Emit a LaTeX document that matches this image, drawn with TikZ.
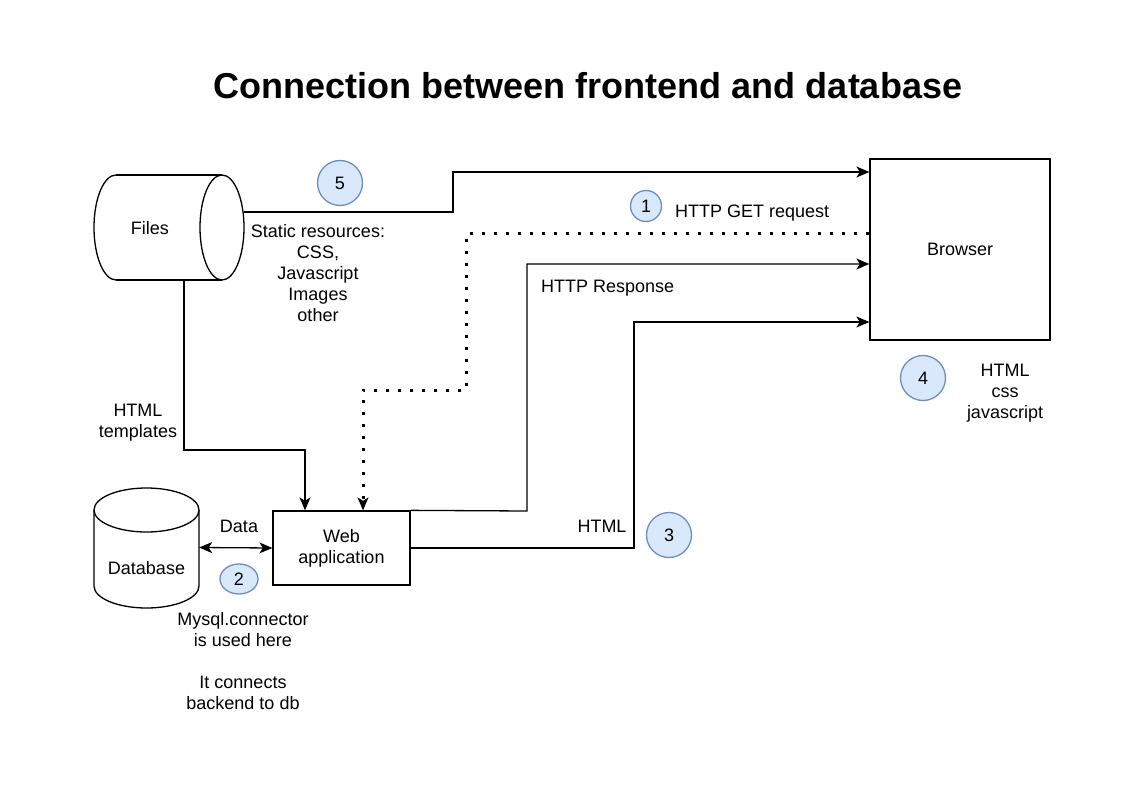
\documentclass[tikz,border=0pt]{standalone}
\usepackage{fontspec}
\setmainfont{Liberation Sans}
\usetikzlibrary{arrows.meta,calc,shapes.geometric}
\definecolor{numfill}{HTML}{DAE8FC}
\definecolor{numline}{HTML}{6C8EBF}
\begin{document}
\begin{tikzpicture}[x=1pt,y=-1pt,
  every node/.style={font=\fontsize{18}{21}\selectfont, align=center, inner sep=0pt},
  box/.style={draw, line width=1.3pt, inner sep=0pt},
  ghost/.style={draw=none, inner sep=0pt},
  num/.style={circle, draw=numline, fill=numfill, line width=1.3pt, minimum size=45pt},
  smallnum/.style={num, minimum size=31pt},
  line/.style={line width=1.3pt},
  tip/.tip={Stealth[length=13pt,width=11pt,inset=3.5pt]},
  arr/.style={line width=1.3pt, -tip},
  dotarr/.style={line width=3pt, dash pattern=on 3pt off 9pt, -{Stealth[length=13pt,width=11pt,inset=3.5pt,line width=1.3pt]}},
  dblarr/.style={line width=1.3pt, tip-tip}
]
\useasboundingbox (0,0) rectangle (1147,791);
\fill[white] (0,0) rectangle (1147,791);

% title
\node[font=\fontsize{36}{40}\selectfont\bfseries] (title) at (588,86) {Connection between frontend and database};

% Files (horizontal cylinder)
\node[ghost, minimum width=150pt, minimum height=105pt] (files) at (169,227.5) {};
\draw[line] (116,175) -- (222,175) (116,280) -- (222,280);
\draw[line] (116,175) arc[start angle=270, end angle=90, x radius=22, y radius=52.5];
\draw[line] (222,227.5) ellipse [x radius=22, y radius=52.5];
\node (fileslabel) at (150,228) {Files};

% Database (vertical cylinder)
\node[ghost, minimum width=105pt, minimum height=119pt] (db) at (146.5,547.5) {};
\draw[line] (94,510) -- (94,586) arc[start angle=180, end angle=0, x radius=52.5, y radius=22] -- (199,510);
\draw[line] (146.5,510) ellipse [x radius=52.5, y radius=22];
\node (dblabel) at (146.5,568) {Database};

% Web application
\node[box, minimum width=137pt, minimum height=74pt] (web) at (341.5,548) {Web\\application};

% Browser
\node[box, minimum width=180pt, minimum height=181pt] (browser) at (960,249.5) {Browser};

% numbered circles
\node[num] (n5) at (340,183) {5};
\node[smallnum] (n1) at (646,206) {1};
\node[ellipse, draw=numline, fill=numfill, line width=1.3pt, minimum width=38pt, minimum height=30pt] (n2) at (239,579) {2};
\node[num] (n3) at (669,535) {3};
\node[num] (n4) at (923,378) {4};

% connectors
\draw[arr] ([yshift=15.5pt]files.east) -- (453,212) -- (453,172) -- ([yshift=77.5pt]browser.west);
\draw[dotarr] ([yshift=15.5pt]browser.west) -- (466,234) -- (466,390) -- (363,390) -- ([xshift=21.5pt]web.north);
\draw[arr] (web.north east) -- (527,511) -- (527,264) -- ([yshift=-14.5pt]browser.west);
\draw[arr] (web.east) -- (634,548) -- (634,322) -- ([yshift=-72.5pt]browser.west);
\draw[arr] ([xshift=15pt]files.south) -- (184,450) -- (305,450) -- ([xshift=-36.5pt]web.north);
\draw[dblarr] (db.east) -- (web.west);

% labels
\node (lstatic) at (318,273) {Static resources:\\CSS,\\Javascript\\Images\\other};
\node[anchor=west] (lget) at (675,213) {HTTP GET request};
\node[anchor=west] (lresp) at (541,288) {HTTP Response};
\node (lhtml) at (602,526) {HTML};
\node (lhcj) at (1005,393) {HTML\\css\\javascript};
\node (ldata) at (239,526) {Data};
\node (ltempl) at (138,423) {HTML\\templates};
\node (lmysql) at (243,661) {Mysql.connector\\is used here\\[21pt]It connects\\backend to db};
\end{tikzpicture}
\end{document}
